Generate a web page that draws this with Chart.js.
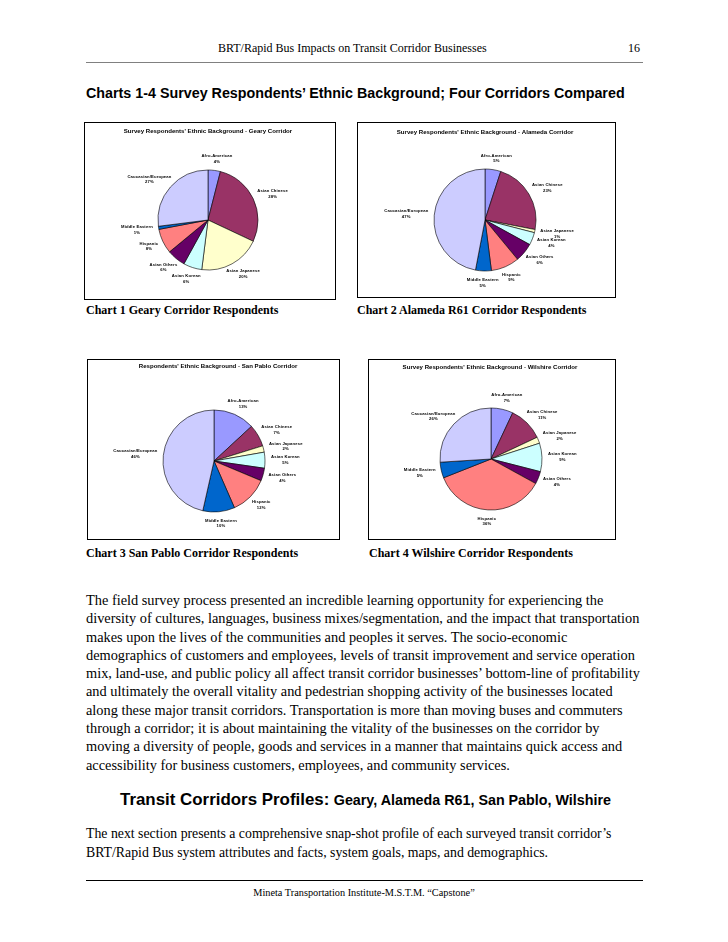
<!DOCTYPE html>
<html lang="en">
<head>
<meta charset="UTF-8">
<title>Survey Respondents' Ethnic Background - Four Corridors</title>
<script src="https://cdn.jsdelivr.net/npm/chart.js"></script>
<style>
  body {
    margin: 0;
    width: 728px;
    height: 942px;
    position: relative;
    overflow: hidden;
    background: #fff;
    color: #000;
    font-family: "Liberation Serif", "Times New Roman", serif;
  }
  .txt { position: absolute; white-space: nowrap; }
  .sans { font-family: "Liberation Sans", Arial, sans-serif; }
  .rule { position: absolute; height: 0; }
  .box { position: absolute; border: 1px solid #000; background: #fff; }
  .box canvas { display: block; }
</style>
</head>
<body>

<!-- page header -->
<div class="txt" style="left:218px; top:41px; font-size:12px; line-height:14px;">BRT/Rapid Bus Impacts on Transit Corridor Businesses</div>
<div class="txt" style="left:628px; top:41px; font-size:12px; line-height:14px;">16</div>
<div class="rule" style="left:86px; top:62px; width:557px; border-top:1px solid #808080;"></div>

<div class="txt sans" style="left:86px; top:84px; font-size:14.3px; line-height:18px; font-weight:bold;">Charts 1-4 Survey Respondents’ Ethnic Background; Four Corridors Compared</div>

<!-- chart boxes -->
<div class="box" id="box1"><canvas id="chart1"></canvas></div>
<div class="box" id="box2"><canvas id="chart2"></canvas></div>
<div class="box" id="box3"><canvas id="chart3"></canvas></div>
<div class="box" id="box4"><canvas id="chart4"></canvas></div>

<div class="txt" style="left:86px; top:303px; font-size:12px; line-height:14px; font-weight:bold;">Chart 1 Geary Corridor Respondents</div>
<div class="txt" style="left:357px; top:303px; font-size:12px; line-height:14px; font-weight:bold;">Chart 2 Alameda R61 Corridor Respondents</div>
<div class="txt" style="left:86px; top:546px; font-size:12px; line-height:14px; font-weight:bold;">Chart 3 San Pablo Corridor Respondents</div>
<div class="txt" style="left:369px; top:546px; font-size:12px; line-height:14px; font-weight:bold;">Chart 4 Wilshire Corridor Respondents</div>

<!-- body text -->
<div class="txt" style="left:86px; top:591px; font-size:14.35px; line-height:18.3px;">
The field survey process presented an incredible learning opportunity for experiencing the<br>
diversity of cultures, languages, business mixes/segmentation, and the impact that transportation<br>
makes upon the lives of the communities and peoples it serves. The socio-economic<br>
demographics of customers and employees, levels of transit improvement and service operation<br>
mix, land-use, and public policy all affect transit corridor businesses’ bottom-line of profitability<br>
and ultimately the overall vitality and pedestrian shopping activity of the businesses located<br>
along these major transit corridors. Transportation is more than moving buses and commuters<br>
through a corridor; it is about maintaining the vitality of the businesses on the corridor by<br>
moving a diversity of people, goods and services in a manner that maintains quick access and<br>
accessibility for business customers, employees, and community services.
</div>

<div class="txt sans" style="left:120px; top:790px; line-height:20px; font-weight:bold;"><span style="font-size:16.9px;">Transit Corridors Profiles:</span> <span style="font-size:14.3px;">Geary, Alameda R61, San Pablo, Wilshire</span></div>

<div class="txt" style="left:86px; top:825px; font-size:13.8px; line-height:18.5px;">
The next section presents a comprehensive snap-shot profile of each surveyed transit corridor’s<br>
BRT/Rapid Bus system attributes and facts, system goals, maps, and demographics.
</div>

<div class="rule" style="left:86px; top:880px; width:557px; border-top:1px solid #000;"></div>
<div class="txt" style="left:0; width:728px; text-align:center; top:886px; font-size:10.3px; line-height:14px;">Mineta Transportation Institute-M.S.T.M. “Capstone”</div>

<script>
// categories, in slice order (clockwise from 12 o'clock)
const categories = ['Afro-American', 'Asian Chinese', 'Asian Japanese', 'Asian Korean',
                    'Asian Others', 'Hispanic', 'Middle Eastern', 'Caucasian/European'];

// percentages
const gearyPct    = [4, 28, 20, 6, 6, 8, 1, 27];
const alamedaPct  = [5, 23, 1, 4, 6, 9, 5, 47];
const sanPabloPct = [13, 7, 2, 5, 4, 12, 10, 46];
const wilshirePct = [7, 11, 2, 9, 4, 36, 5, 26];

const chartTitles = [
    'Survey Respondents\' Ethnic Background - Geary Corridor',
    'Survey Respondents\' Ethnic Background - Alameda Corridor',
    'Respondents\' Ethnic Background - San Pablo Corridor',
    'Survey Respondents\' Ethnic Background - Wilshire Corridor'
];

const sliceColors = ['#9999FF', '#993366', '#FFFFCC', '#CCFFFF', '#660066', '#FF8080', '#0066CC', '#CCCCFF'];

// placement of each chart frame, pie and title on the page
const layouts = [
    { box: { x: 84,  y: 122, w: 252, h: 178 }, pie: { cx: 208, cy: 220, r: 50 }, title: { x: 208, y: 131 } },
    { box: { x: 357, y: 122, w: 259, h: 176 }, pie: { cx: 485, cy: 220, r: 51 }, title: { x: 485, y: 132 } },
    { box: { x: 87,  y: 359, w: 253, h: 181 }, pie: { cx: 214, cy: 461, r: 51 }, title: { x: 218, y: 366 } },
    { box: { x: 368, y: 359, w: 248, h: 181 }, pie: { cx: 491, cy: 459, r: 51 }, title: { x: 490, y: 367 } }
];

// chart title plus Excel-style labels just outside each slice (name over percent)
const sliceLabels = {
    id: 'sliceLabels',
    afterDatasetsDraw(chart, args, opts) {
        const ctx = chart.ctx;
        const meta = chart.getDatasetMeta(0);
        const values = chart.data.datasets[0].data;
        ctx.save();
        ctx.fillStyle = '#000';
        ctx.textAlign = 'center';
        ctx.textBaseline = 'middle';

        ctx.font = 'bold 6.1px "Liberation Sans", Arial, sans-serif';
        ctx.fillText(opts.title, opts.titleX, opts.titleY);

        const lh = 5.6;
        ctx.font = 'bold 4.2px "Liberation Sans", Arial, sans-serif';
        ctx.letterSpacing = '0.15px';
        meta.data.forEach((arc, i) => {
            const p = arc.getProps(['x', 'y', 'startAngle', 'endAngle', 'outerRadius'], true);
            const mid = (p.startAngle + p.endAngle) / 2;
            const lines = [chart.data.labels[i], values[i] + '%'];
            const w = Math.max(...lines.map(t => ctx.measureText(t).width));
            const h = lh * 2;
            const dx = Math.cos(mid), dy = Math.sin(mid);
            const dist = p.outerRadius + 6;
            const x = p.x + dx * dist + dx * w / 2;
            const y = p.y + dy * dist + dy * h / 2;
            ctx.fillText(lines[0], x, y - lh / 2);
            ctx.fillText(lines[1], x, y + lh / 2);
        });
        ctx.restore();
    }
};

function makePie(n, values) {
    const L = layouts[n];
    const box = document.getElementById('box' + (n + 1));
    box.style.left = L.box.x + 'px';
    box.style.top = L.box.y + 'px';

    const ox = L.box.x + 1, oy = L.box.y + 1;
    const cw = L.box.w - 2, ch = L.box.h - 2;
    const canvas = document.getElementById('chart' + (n + 1));
    canvas.width = cw;
    canvas.height = ch;

    // pad the chart area down to a square that holds the pie
    const bw = 0.6;
    const size = L.pie.r * 2 + bw;
    const cx = L.pie.cx - ox;
    const cy = L.pie.cy - oy;
    const padL = cx - size / 2;
    const padR = cw - padL - size;
    const padT = cy - size / 2;
    const padB = ch - padT - size;

    return new Chart(canvas, {
        type: 'pie',
        data: {
            labels: categories,
            datasets: [{
                data: values,
                backgroundColor: sliceColors,
                borderColor: '#000',
                borderWidth: bw
            }]
        },
        options: {
            responsive: false,
            animation: false,
            layout: { padding: { left: padL, right: padR, top: padT, bottom: padB } },
            plugins: {
                legend: { display: false },
                tooltip: { enabled: false },
                title: { display: false },
                sliceLabels: {
                    title: chartTitles[n],
                    titleX: L.title.x - ox,
                    titleY: L.title.y - oy
                }
            }
        },
        plugins: [sliceLabels]
    });
}

makePie(0, gearyPct);
makePie(1, alamedaPct);
makePie(2, sanPabloPct);
makePie(3, wilshirePct);
</script>
</body>
</html>
